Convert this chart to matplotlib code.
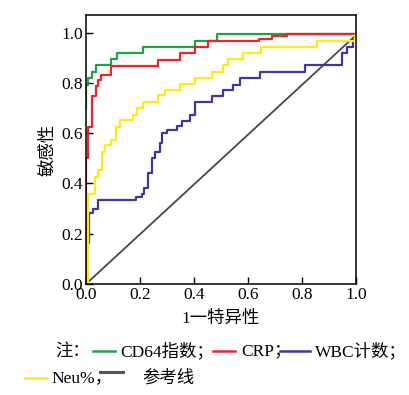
import numpy as np
import matplotlib
matplotlib.use("Agg")
import matplotlib.pyplot as plt
from matplotlib.lines import Line2D

# ROC points (1-specificity, sensitivity)
cd64_fpr = [0, 0, 0.009, 0.023, 0.036, 0.093, 0.114, 0.212, 0.404, 0.487, 1.0]
cd64_tpr = [0.70, 0.79, 0.818, 0.845, 0.871, 0.894, 0.92, 0.944, 0.966, 0.993, 0.993]

crp_fpr = [0, 0, 0.009, 0.023, 0.036, 0.046, 0.054, 0.093, 0.268, 0.348, 0.404, 0.453,
           0.595, 0.64, 0.69, 0.743, 1.0]
crp_tpr = [0, 0.50, 0.626, 0.748, 0.788, 0.812, 0.832, 0.867, 0.891, 0.918, 0.942, 0.966,
           0.968, 0.976, 0.985, 0.995, 0.995]

wbc_fpr = [0, 0.003, 0.012, 0.027, 0.046, 0.163, 0.185, 0.206, 0.215, 0.231, 0.245, 0.256,
           0.274, 0.28, 0.3, 0.336, 0.354, 0.385, 0.404, 0.465, 0.509, 0.546, 0.57,
           0.644, 0.81, 0.947, 0.965, 0.99, 1.0]
wbc_tpr = [0.135, 0.163, 0.284, 0.30, 0.334, 0.334, 0.345, 0.358, 0.38, 0.44, 0.50, 0.527,
           0.56, 0.60, 0.613, 0.629, 0.65, 0.672, 0.725, 0.748, 0.772, 0.792, 0.818,
           0.845, 0.871, 0.918, 0.944, 0.97, 0.97]

neu_fpr = [0, 0.009, 0.033, 0.046, 0.058, 0.07, 0.091, 0.11, 0.126, 0.175, 0.19, 0.212,
           0.268, 0.293, 0.348, 0.404, 0.465, 0.509, 0.527, 0.583, 0.65, 0.854, 0.996, 1.0]
neu_tpr = [0, 0.36, 0.427, 0.454, 0.527, 0.553, 0.573, 0.626, 0.653, 0.672, 0.70, 0.725,
           0.752, 0.772, 0.795, 0.818, 0.845, 0.871, 0.894, 0.92, 0.944, 0.968, 0.99, 0.99]

ref_fpr = [0, 1.0]
ref_tpr = [0, 0.99]

# colours
c_green = "#1ea245"
c_red = "#ee2227"
c_purple = "#4332a0"
c_yellow = "#fbeb16"
c_gray = "#3f4a4a"

serif_cjk = ["Liberation Serif", "Noto Sans CJK SC"]
plt.rcParams["font.family"] = serif_cjk

fig = plt.figure(figsize=(4.09, 3.95), dpi=100)
ax = fig.add_axes([0.2103, 0.281, 0.66, 0.681])

ax.plot(ref_fpr, ref_tpr, color=c_gray, lw=1.3)
ax.step(wbc_fpr, wbc_tpr, where="post", color=c_purple, lw=1.6)
ax.step(cd64_fpr, cd64_tpr, where="post", color=c_green, lw=1.6)
ax.step(crp_fpr, crp_tpr, where="post", color=c_red, lw=1.6)
ax.step(neu_fpr, neu_tpr, where="post", color=c_yellow, lw=1.6)

ax.set_xlim(0, 1.0)
ax.set_ylim(0, 1.07)
ax.set_xticks(np.arange(0, 1.01, 0.2))
ax.set_yticks(np.arange(0, 1.01, 0.2))
ax.set_xticklabels(["%.1f" % v for v in np.arange(0, 1.01, 0.2)])
ax.set_yticklabels(["%.1f" % v for v in np.arange(0, 1.01, 0.2)])
ax.tick_params(direction="in", length=5, width=1, labelsize=12.5, pad=2,
               top=False, right=False)
for s in ax.spines.values():
    s.set_linewidth(1.1)

ax.set_xlabel("1一特异性", fontsize=12.5, labelpad=6)
ax.set_ylabel("敏感性", fontsize=12.5, labelpad=4)

# legend drawn by hand below the axes
y1 = 0.111
y2 = 0.043
fs = 12.5
fig.text(0.134, y1, "注：", fontsize=fs, va="center")
fig.add_artist(Line2D([0.227, 0.281], [y1, y1], color=c_green, lw=1.8))
fig.text(0.293, y1, "CD64指数；", fontsize=fs, va="center")
fig.add_artist(Line2D([0.521, 0.575], [y1, y1], color=c_red, lw=1.8))
fig.text(0.589, y1, "CRP；", fontsize=fs, va="center")
fig.add_artist(Line2D([0.685, 0.758], [y1, y1], color=c_purple, lw=1.8))
fig.text(0.770, y1, "WBC计数；", fontsize=fs, va="center")

fig.add_artist(Line2D([0.061, 0.115], [y2, y2], color=c_yellow, lw=1.8))
fig.text(0.127, y2, "Neu%，", fontsize=fs, va="center")
fig.add_artist(Line2D([0.244, 0.301], [0.058, 0.058], color="#555555", lw=2.2))
fig.text(0.347, y2, "参考线", fontsize=fs, va="center")

fig.savefig("out.png", dpi=100)
